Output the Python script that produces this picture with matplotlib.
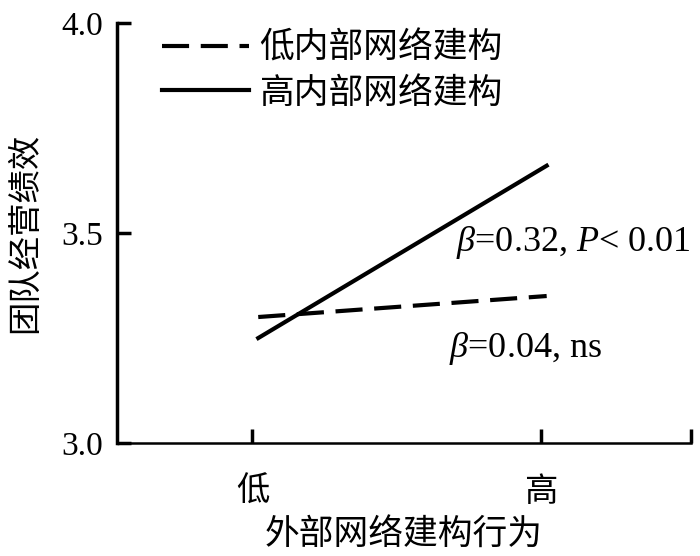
import matplotlib
matplotlib.use("Agg")
import matplotlib.pyplot as plt

plt.rcParams['font.family'] = ['Liberation Serif', 'Noto Sans CJK SC']
plt.rcParams['mathtext.fontset'] = 'custom'
plt.rcParams['mathtext.rm'] = 'Liberation Serif'
plt.rcParams['mathtext.it'] = 'Liberation Serif:italic'

# 数据
x_levels = [1, 2]
x_labels = ['低', '高']
low_internal = [3.30, 3.35]
high_internal = [3.25, 3.66]
series_names = ['低内部网络建构', '高内部网络建构']
y_ticks = [3.0, 3.5, 4.0]

cjk = ['Noto Sans CJK SC', 'Liberation Serif']

fig = plt.figure(figsize=(7, 5.56), dpi=100)
ax = fig.add_axes([0.167, 0.203, 0.820, 0.756])

ax.plot([1.02, 2.02], low_internal, color='black', lw=3, ls=(0, (6.5, 2.8)),
        label=series_names[0])
ax.plot([1.02, 2.02], high_internal, color='black', lw=3, ls='-',
        label=series_names[1])

ax.set_xlim(0.53, 2.52)
ax.set_ylim(3.0, 4.0)
ax.set_xticks([1, 2, 2.52])
ax.set_xticklabels(x_labels + [''], fontsize=24, family=cjk)
ax.set_yticks(y_ticks)
ax.set_yticklabels([f'{v:.1f}' for v in y_ticks], fontsize=24)
ax.tick_params(axis='both', direction='in', length=10, width=2.5, color='black')
ax.tick_params(axis='x', pad=22)
ax.tick_params(axis='y', pad=10)

for s in ['top', 'right']:
    ax.spines[s].set_visible(False)
ax.spines['left'].set_linewidth(2.5)
ax.spines['bottom'].set_linewidth(1.8)

ax.set_xlabel('外部网络建构行为', fontsize=25, family=cjk, labelpad=6)
ax.set_ylabel('团队经营绩效', fontsize=24, family=cjk, labelpad=14)

ax.text(1.706, 3.478, r'$\beta$=0.32, $P$< 0.01', fontsize=26, va='center', ha='left')
ax.text(1.68, 3.224, r'$\beta$=0.04, ns', fontsize=26, va='center', ha='left')

leg = ax.legend(loc='upper left', bbox_to_anchor=(0.049, 1.022), frameon=False,
                prop={'family': cjk, 'size': 25}, handlelength=2.5,
                handletextpad=0.3, labelspacing=0.28, borderpad=0)

fig.savefig('out.png', dpi=100)
